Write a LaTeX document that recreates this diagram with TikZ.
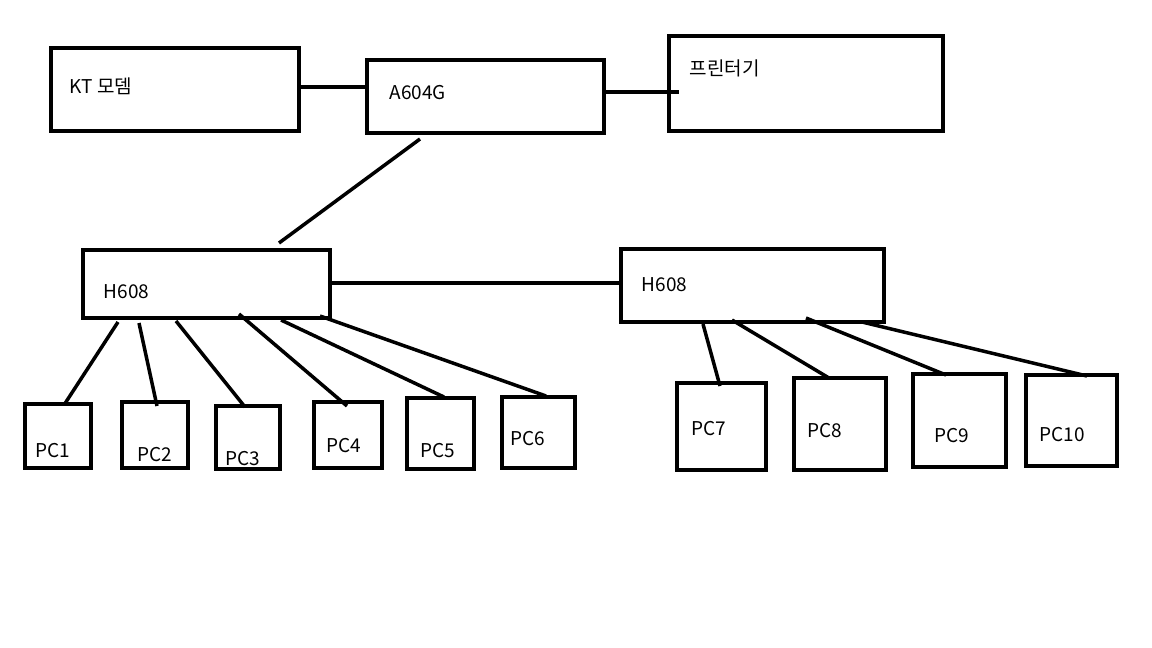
\documentclass[tikz,border=0pt]{standalone}
\usepackage{fontspec}
\setmainfont{Noto Sans CJK KR}
\begin{document}
\begin{tikzpicture}[x=1pt,y=-1pt,line width=3.5pt,
 box/.style={draw,line width=3.5pt},
 lab/.style={anchor=west,font=\fontsize{19}{22}\selectfont,inner sep=0},
 ln/.style={line width=3.5pt}]
\useasboundingbox (0,0) rectangle (1152,648);
\newcommand\bx[5]{\draw[box] (#2,#3) rectangle (#4,#5); \coordinate (#1) at (#2,#3);}
\bx{kt}{51}{48}{299}{131}
\bx{a6}{367}{60}{604}{133}
\bx{pr}{669}{36}{943}{131}
\bx{hl}{83}{250}{330}{318}
\bx{hr}{621}{249}{884}{322}
\bx{p1}{25}{404}{91}{468}
\bx{p2}{122}{402}{188}{468}
\bx{p3}{216}{406}{280}{469}
\bx{p4}{314}{402}{382}{468}
\bx{p5}{407}{398}{474}{469}
\bx{p6}{502}{397}{575}{468}
\bx{p7}{677}{383}{766}{470}
\bx{p8}{794}{378}{886}{470}
\bx{p9}{913}{374}{1006}{467}
\bx{p10}{1026}{375}{1117}{466}
\node[lab] (t1) at (68,86) {KT 모뎀};
\node[lab] (t2) at (388,93) {A604G};
\node[lab] (t3) at (688,68) {프린터기};
\node[lab] (t4) at (102,292) {H608};
\node[lab] (t5) at (640,285) {H608};
\node[lab] at (34,451) {PC1};
\node[lab] at (136,455) {PC2};
\node[lab] at (224,459) {PC3};
\node[lab] at (325,446) {PC4};
\node[lab] at (419,451) {PC5};
\node[lab] at (509,439) {PC6};
\node[lab] at (690,429) {PC7};
\node[lab] at (806,431) {PC8};
\node[lab] at (933,436) {PC9};
\node[lab] at (1038,435) {PC10};
\foreach \n/\a/\b/\c/\d in {c1/299/87/367/87, c2/604/92/679/92, c3/420/139/279/243,
 c4/330/283/621/283, c5/118/322/64/405, c6/139/323/157/406, c7/176/321/245/407,
 c8/239/314/347/406, c9/281/320/444/397, c10/320/316/546/396,
 c11/703/324/720/386, c12/732/320/829/378, c13/806/318/946/375, c14/862/322/1087/376}{
 \coordinate (\n s) at (\a,\b); \coordinate (\n e) at (\c,\d);
 \draw[ln] (\n s) -- (\n e);}
\end{tikzpicture}
\end{document}
